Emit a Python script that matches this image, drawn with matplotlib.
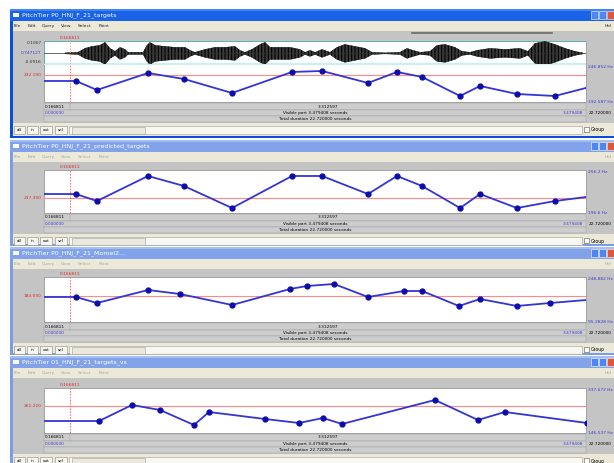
"""Four stacked Praat PitchTier editor windows (targets / predicted / Momel / targets_vs)."""

import matplotlib

matplotlib.use("Agg")
import matplotlib.pyplot as plt
import numpy as np
from matplotlib.patches import Rectangle

W, H = 614, 463

VISIBLE = 3.479408
CURSOR = 0.166811
TOTAL = "22.720000"

TITLES = ["PitchTier P0_HNJ_F_21_targets",
          "PitchTier P0_HNJ_F_21_predicted_targets",
          "PitchTier P0_HNJ_F_21_Momel2...",
          "PitchTier 01_HNJ_F_21_targets_vs"]
MENU = ["File", "Edit", "Query", "View", "Select", "Point"]

# pitch points (s, Hz); the last point of 1-3 lies just past the visible part
T1 = [0.205, 0.340, 0.668, 0.899, 1.207, 1.592, 1.785, 2.080, 2.266, 2.427,
      2.671, 2.799, 3.036, 3.280, 3.620]
F1 = [223.4, 210.2, 235.1, 226.3, 205.8, 236.6, 238.1, 220.5, 236.6, 229.3,
      201.4, 216.1, 204.3, 201.4, 221.5]
T2 = [0.205, 0.340, 0.668, 0.899, 1.207, 1.592, 1.785, 2.080, 2.266, 2.427,
      2.671, 2.799, 3.036, 3.280, 3.620]
F2 = [222.9, 213.2, 247.9, 234.0, 203.5, 247.9, 247.9, 222.9, 247.9, 234.0,
      203.5, 222.9, 203.5, 213.2, 222.7]
T3 = [0.205, 0.340, 0.668, 0.873, 1.207, 1.579, 1.688, 1.862, 2.080, 2.311,
      2.427, 2.664, 2.799, 3.036, 3.248, 3.620]
F3 = [180.6, 160.1, 204.5, 190.9, 153.3, 207.9, 218.2, 225.0, 180.6, 201.1,
      201.1, 149.9, 173.8, 149.9, 160.1, 176.5]
T4 = [0.353, 0.565, 0.745, 0.963, 1.059, 1.419, 1.637, 1.791, 1.913, 2.510,
      2.786, 2.959, 3.486]
F4 = [197.5, 265.5, 244.2, 180.5, 235.7, 206.0, 189.0, 210.3, 184.8, 286.7,
      201.8, 235.7, 189.0]

F_MAX = [246.852, 256.2, 248.882, 337.672]
F_MIN = [192.587, 196.6, 95.2828, 146.537]
F_MAX_LBL = ["246.852 Hz", "256.2 Hz", "248.882 Hz", "337.672 Hz"]
F_MIN_LBL = ["192.587 Hz", "196.6 Hz", "95.2828 Hz", "146.537 Hz"]
F_CURSOR = [232.19, 217.39, 184.03, 261.22]

# sound envelope in the first window (s, amplitude)
WAVE_T = [0.135, 0.218, 0.263, 0.308, 0.359, 0.392, 0.424, 0.456, 0.488,
          0.520, 0.539, 0.636, 0.661, 0.680, 0.713, 0.777, 0.841, 0.905,
          0.937, 0.969, 1.034, 1.098, 1.162, 1.226, 1.258, 1.290, 1.335,
          1.387, 1.419, 1.451, 1.515, 1.579, 1.643, 1.676, 1.708, 1.740,
          1.785, 1.836, 1.881, 1.932, 1.996, 2.061, 2.106, 2.189, 2.285,
          2.330, 2.369, 2.414, 2.478, 2.523, 2.574, 2.638, 2.683, 2.735,
          2.780, 2.863, 2.959, 3.056, 3.107, 3.152, 3.216, 3.280, 3.345,
          3.409, 3.460]
WAVE_A = [0.004, 0.009, 0.043, 0.060, 0.069, 0.095, 0.043, 0.017, 0.052,
          0.034, 0.009, 0.009, 0.069, 0.095, 0.069, 0.060, 0.052, 0.052,
          0.026, 0.009, 0.034, 0.052, 0.052, 0.060, 0.026, 0.009, 0.034,
          0.077, 0.095, 0.052, 0.052, 0.052, 0.034, 0.009, 0.026, 0.009,
          0.034, 0.009, 0.052, 0.077, 0.060, 0.043, 0.009, 0.004, 0.009,
          0.043, 0.026, 0.009, 0.017, 0.069, 0.077, 0.052, 0.017, 0.009,
          0.026, 0.043, 0.034, 0.043, 0.017, 0.086, 0.103, 0.077, 0.043,
          0.017, 0.004]

# window layout in pixels: title top, plot top, pitch top, plot bottom,
# button row top, window bottom
LAYOUT = [(9, 41, 65, 102, 123, 138),
          (140, 170, 170, 213, 234, 246),
          (247, 277, 277, 322, 343, 355),
          (356, 388, 388, 433, 454, 470)]

GRAY = "#c4c4c4"
BEIGE = "#ece9d8"
HZ_BLUE = "#3a3ad0"
RED_TXT = "#e02a2a"

plt.rcParams["hatch.linewidth"] = 0.8


def px_axes(fig, x0, y0, x1, y1):
    return fig.add_axes([x0 / W, 1 - y1 / H, (x1 - x0) / W, (y1 - y0) / H])


def chrome(bg, k, lay):
    tt, pt, _, pb, bt, wb = lay
    active = k == 0
    bg.add_patch(Rectangle((10, tt), W - 10, wb - tt, lw=0,
                           color="#0a4fd6" if active else "#7d9de3"))
    bg.add_patch(Rectangle((10, tt), W - 10, 12, lw=0,
                           color="#1a62e6" if active else "#82a3ea"))
    bg.add_patch(Rectangle((10, tt), W - 10, 2, lw=0,
                           color="#3d86f4" if active else "#a6bff2"))
    bg.add_patch(Rectangle((13, tt + 4), 6, 4, color="white", lw=0))
    bg.text(22, tt + 6.5, TITLES[k], color="white", fontsize=4.5,
            va="center")
    for bx, c in ((591, "#4f86f0"), (599, "#4f86f0"), (607, "#e2573a")):
        bg.add_patch(Rectangle((bx, tt + 2), 7, 8, facecolor=c,
                               edgecolor="white", lw=0.4))
    # menu bar
    bg.add_patch(Rectangle((13, tt + 12), W - 13, 10, color=BEIGE, lw=0))
    mc = "#202020" if active else "#a8a8a0"
    for mx, m in zip([14, 28, 42, 61, 78, 99], MENU):
        bg.text(mx, tt + 17, m, fontsize=3.2, color=mc, va="center")
    bg.text(605, tt + 17, "Hel", fontsize=3.2, color=mc, va="center")
    # content
    bg.add_patch(Rectangle((13, tt + 22), W - 13, bt - tt - 22, color=GRAY,
                           lw=0))
    bg.add_patch(Rectangle((44, pt), 542, pb - pt, facecolor="white",
                           edgecolor="#8a8a8a", lw=0.5))
    # time rows under the plot
    for y0, h in ((pb + 1, 7), (pb + 8, 6), (pb + 14, 6)):
        bg.add_patch(Rectangle((44, y0), 542, h, facecolor="#cdcdcd",
                               edgecolor="#9a9a9a", lw=0.3))
    bg.plot([70, 70], [pb + 1, pb + 8], color="#9a9a9a", lw=0.3)
    bg.text(45, pb + 4.5, f"{CURSOR:.6f}", fontsize=3.1, va="center")
    bg.text(328, pb + 4.5, f"{VISIBLE - CURSOR:.6f}", fontsize=3.1,
            va="center", ha="center")
    bg.text(45, pb + 11, "0.000000", fontsize=3.1, va="center",
            color=HZ_BLUE)
    bg.text(315, pb + 11, f"Visible part {VISIBLE:.6f} seconds",
            fontsize=3.1, va="center", ha="center")
    bg.text(583, pb + 11, f"{VISIBLE:.6f}", fontsize=3.1, va="center",
            ha="right", color=HZ_BLUE)
    bg.text(589, pb + 11, TOTAL, fontsize=3.1, va="center")
    bg.text(315, pb + 17, f"Total duration {TOTAL} seconds", fontsize=3.1,
            va="center", ha="center")
    # button row
    bg.add_patch(Rectangle((13, bt), W - 13, wb - bt - 2, color=BEIGE, lw=0))
    for (bx, bw), lbl in zip(((14, 11), (27, 11), (40, 12), (55, 12)),
                             ["all", "in", "out", "sel"]):
        bg.add_patch(Rectangle((bx, bt + 3), bw, 8, facecolor="#f6f5f0",
                               edgecolor="#8a8a80", lw=0.4))
        bg.text(bx + bw / 2, bt + 7, lbl, fontsize=3, ha="center",
                va="center")
    bg.add_patch(Rectangle((69, bt + 3), 513, 8, facecolor="#f8f7f2",
                           edgecolor="#a0a098", lw=0.4))
    bg.add_patch(Rectangle((72, bt + 3.5), 73, 7, facecolor="#ebe9df",
                           edgecolor="#a0a098", lw=0.4))
    bg.add_patch(Rectangle((584, bt + 4), 5, 5, facecolor="white",
                           edgecolor="#555555", lw=0.4))
    bg.text(591, bt + 7, "Group", fontsize=3.3, va="center")


def pitch_panel(fig, lay, t, f, k):
    _, pt, ft, pb, _, _ = lay
    ax = px_axes(fig, 44, ft, 586, pb)
    ax.set_facecolor("none")
    ax.set_xlim(0, VISIBLE)
    ax.set_ylim(F_MIN[k], F_MAX[k])
    ax.axis("off")
    ax.axhline(F_CURSOR[k], color="#ff8a8a", lw=0.8)
    ax.axvline(CURSOR, color="#ff5a5a", lw=0.6, ls=(0, (2, 1.5)))
    # the tier is flat before its first point
    tl = np.r_[0.0, t]
    fl = np.r_[f[0], f]
    ax.plot(tl, fl, color="#3434d6", lw=1.3, solid_joinstyle="round")
    ax.plot(t, f, "o", color="#0c0cae", ms=3.5, mec="#0c0cae")
    yt = ax.get_yaxis_transform()
    ax.text(-0.004, F_CURSOR[k], f"{F_CURSOR[k]:.3f}", transform=yt,
            ha="right", va="center", fontsize=3.2, color=RED_TXT)
    ax.text(1.004, F_MAX[k], F_MAX_LBL[k], transform=yt, va="top",
            fontsize=3.2, color=HZ_BLUE)
    ax.text(1.004, F_MIN[k], F_MIN_LBL[k], transform=yt, va="center",
            fontsize=3.2, color=HZ_BLUE)
    if k > 0:
        ax.text(CURSOR, 1.02, f"{CURSOR:.6f}",
                transform=ax.get_xaxis_transform(), ha="center",
                va="bottom", fontsize=3.2, color=RED_TXT)
    return ax


def wave_panel(fig, lay):
    _, pt, ft, _, _, _ = lay
    ax = px_axes(fig, 44, pt, 586, ft - 1)
    ax.set_facecolor("none")
    ax.set_xlim(0, VISIBLE)
    ax.set_ylim(-0.0916, 0.1067)
    ax.axis("off")
    ax.add_patch(Rectangle((0, 0), 1, 1, transform=ax.transAxes,
                           facecolor="none", edgecolor="#5ab4b4", lw=0.6))
    ax.axhline(0, color="#303030", lw=0.5)
    a = np.array(WAVE_A)
    # striped fill so the envelope reads like a dense waveform
    ax.fill_between(WAVE_T, -a, a, facecolor="#3a3a3a", edgecolor="#000000",
                    hatch="|||||", lw=0.3)
    ax.axvline(CURSOR, color="#ff9a9a", lw=0.6, ls=(0, (2, 1.5)))
    yt = ax.get_yaxis_transform()
    ax.text(-0.004, 0.1067, "0.1067", transform=yt, ha="right", va="top",
            fontsize=3.2, color="#333333")
    ax.text(-0.004, 0.0, "0.747127", transform=yt, ha="right", va="center",
            fontsize=3.2, color=HZ_BLUE)
    ax.text(-0.004, -0.0916, "-0.0916", transform=yt, ha="right",
            va="bottom", fontsize=3.2, color="#333333")
    ax.text(CURSOR, 1.04, f"{CURSOR:.6f}", transform=ax.get_xaxis_transform(),
            ha="center", va="bottom", fontsize=3.2, color=RED_TXT)


def main():
    fig = plt.figure(figsize=(W / 100, H / 100), dpi=100)
    bg = fig.add_axes([0, 0, 1, 1])
    bg.set_xlim(0, W)
    bg.set_ylim(H, 0)
    bg.axis("off")

    for k, lay in enumerate(LAYOUT):
        chrome(bg, k, lay)

    # light cyan band between sound and pitch in the first window
    bg.add_patch(Rectangle((44, 63), 542, 2, color="#c8f0f0", lw=0))
    bg.plot([412, 552], [33, 33], color="#6a6a6a", lw=1.2)

    wave_panel(fig, LAYOUT[0])
    for k, (t, f) in enumerate([(T1, F1), (T2, F2), (T3, F3), (T4, F4)]):
        pitch_panel(fig, LAYOUT[k], t, f, k)

    fig.savefig("out.png", dpi=100)
    plt.close(fig)


if __name__ == "__main__":
    main()
